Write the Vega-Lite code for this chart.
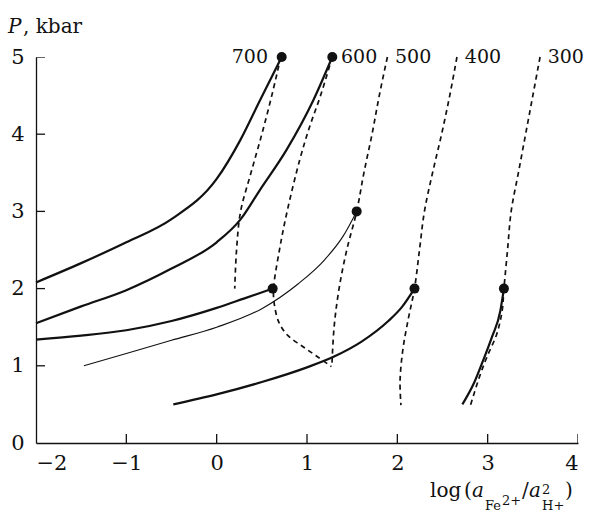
{
  "$schema": "https://vega.github.io/schema/vega-lite/v6.json",
  "width": 542,
  "height": 386,
  "autosize": "none",
  "padding": {"left": 36, "top": 57, "right": 12, "bottom": 71},
  "background": "white",
  "config": {
    "view": {"stroke": null},
    "font": "DejaVu Serif",
    "axis": {
      "grid": false,
      "domainColor": "#111",
      "domainWidth": 1.3,
      "tickColor": "#111",
      "tickOpacity": 0,
      "tickSize": -9,
      "labelFont": "DejaVu Serif",
      "labelFontSize": 21,
      "labelColor": "#111",
      "title": null
    }
  },
  "datasets": {
    "curves": [
      {"s": "d700", "k": "dash", "i": 0, "x": 0.71, "y": 5},
      {"s": "d700", "k": "dash", "i": 1, "x": 0.61, "y": 4.5},
      {"s": "d700", "k": "dash", "i": 2, "x": 0.5, "y": 4},
      {"s": "d700", "k": "dash", "i": 3, "x": 0.38, "y": 3.5},
      {"s": "d700", "k": "dash", "i": 4, "x": 0.265, "y": 3},
      {"s": "d700", "k": "dash", "i": 5, "x": 0.22, "y": 2.5},
      {"s": "d700", "k": "dash", "i": 6, "x": 0.2, "y": 2},
      {"s": "d600", "k": "dash", "i": 0, "x": 1.28, "y": 5},
      {"s": "d600", "k": "dash", "i": 1, "x": 1.15, "y": 4.5},
      {"s": "d600", "k": "dash", "i": 2, "x": 1.03, "y": 4.1},
      {"s": "d600", "k": "dash", "i": 3, "x": 0.92, "y": 3.67},
      {"s": "d600", "k": "dash", "i": 4, "x": 0.78, "y": 3},
      {"s": "d600", "k": "dash", "i": 5, "x": 0.695, "y": 2.5},
      {"s": "d600", "k": "dash", "i": 6, "x": 0.63, "y": 2},
      {"s": "d600", "k": "dash", "i": 7, "x": 0.638, "y": 1.8},
      {"s": "d600", "k": "dash", "i": 8, "x": 0.69, "y": 1.56},
      {"s": "d600", "k": "dash", "i": 9, "x": 0.79, "y": 1.39},
      {"s": "d600", "k": "dash", "i": 10, "x": 0.94, "y": 1.26},
      {"s": "d600", "k": "dash", "i": 11, "x": 1.1, "y": 1.13},
      {"s": "d600", "k": "dash", "i": 12, "x": 1.27, "y": 0.99},
      {"s": "d500", "k": "dash", "i": 0, "x": 1.89, "y": 5},
      {"s": "d500", "k": "dash", "i": 1, "x": 1.8, "y": 4.5},
      {"s": "d500", "k": "dash", "i": 2, "x": 1.72, "y": 4},
      {"s": "d500", "k": "dash", "i": 3, "x": 1.63, "y": 3.5},
      {"s": "d500", "k": "dash", "i": 4, "x": 1.55, "y": 3},
      {"s": "d500", "k": "dash", "i": 5, "x": 1.44, "y": 2.5},
      {"s": "d500", "k": "dash", "i": 6, "x": 1.355, "y": 2},
      {"s": "d500", "k": "dash", "i": 7, "x": 1.3, "y": 1.5},
      {"s": "d500", "k": "dash", "i": 8, "x": 1.275, "y": 0.99},
      {"s": "d400", "k": "dash", "i": 0, "x": 2.66, "y": 5},
      {"s": "d400", "k": "dash", "i": 1, "x": 2.58, "y": 4.5},
      {"s": "d400", "k": "dash", "i": 2, "x": 2.49, "y": 4},
      {"s": "d400", "k": "dash", "i": 3, "x": 2.39, "y": 3.5},
      {"s": "d400", "k": "dash", "i": 4, "x": 2.3, "y": 3},
      {"s": "d400", "k": "dash", "i": 5, "x": 2.245, "y": 2.5},
      {"s": "d400", "k": "dash", "i": 6, "x": 2.19, "y": 2},
      {"s": "d400", "k": "dash", "i": 7, "x": 2.12, "y": 1.6},
      {"s": "d400", "k": "dash", "i": 8, "x": 2.06, "y": 1.2},
      {"s": "d400", "k": "dash", "i": 9, "x": 2.03, "y": 0.8},
      {"s": "d400", "k": "dash", "i": 10, "x": 2.04, "y": 0.49},
      {"s": "d300", "k": "dash", "i": 0, "x": 3.58, "y": 5},
      {"s": "d300", "k": "dash", "i": 1, "x": 3.5, "y": 4.5},
      {"s": "d300", "k": "dash", "i": 2, "x": 3.42, "y": 4},
      {"s": "d300", "k": "dash", "i": 3, "x": 3.34, "y": 3.5},
      {"s": "d300", "k": "dash", "i": 4, "x": 3.26, "y": 3},
      {"s": "d300", "k": "dash", "i": 5, "x": 3.22, "y": 2.5},
      {"s": "d300", "k": "dash", "i": 6, "x": 3.18, "y": 2},
      {"s": "d300", "k": "dash", "i": 7, "x": 3.16, "y": 1.71},
      {"s": "d300", "k": "dash", "i": 8, "x": 3.1, "y": 1.41},
      {"s": "d300", "k": "dash", "i": 9, "x": 2.99, "y": 1.11},
      {"s": "d300", "k": "dash", "i": 10, "x": 2.91, "y": 0.86},
      {"s": "d300", "k": "dash", "i": 11, "x": 2.81, "y": 0.49},
      {"s": "s700", "k": "thick", "i": 0, "x": -2, "y": 2.08},
      {"s": "s700", "k": "thick", "i": 1, "x": -1.5, "y": 2.33},
      {"s": "s700", "k": "thick", "i": 2, "x": -1, "y": 2.6},
      {"s": "s700", "k": "thick", "i": 3, "x": -0.5, "y": 2.9},
      {"s": "s700", "k": "thick", "i": 4, "x": 0, "y": 3.42},
      {"s": "s700", "k": "thick", "i": 5, "x": 0.26, "y": 3.92},
      {"s": "s700", "k": "thick", "i": 6, "x": 0.48, "y": 4.44},
      {"s": "s700", "k": "thick", "i": 7, "x": 0.72, "y": 5},
      {"s": "s600", "k": "thick", "i": 0, "x": -2, "y": 1.55},
      {"s": "s600", "k": "thick", "i": 1, "x": -1.5, "y": 1.77},
      {"s": "s600", "k": "thick", "i": 2, "x": -1, "y": 1.98},
      {"s": "s600", "k": "thick", "i": 3, "x": -0.5, "y": 2.26},
      {"s": "s600", "k": "thick", "i": 4, "x": 0, "y": 2.6},
      {"s": "s600", "k": "thick", "i": 5, "x": 0.26, "y": 2.89},
      {"s": "s600", "k": "thick", "i": 6, "x": 0.48, "y": 3.28},
      {"s": "s600", "k": "thick", "i": 7, "x": 0.775, "y": 3.8},
      {"s": "s600", "k": "thick", "i": 8, "x": 1.07, "y": 4.44},
      {"s": "s600", "k": "thick", "i": 9, "x": 1.28, "y": 5},
      {"s": "s2a", "k": "thick", "i": 0, "x": -2, "y": 1.34},
      {"s": "s2a", "k": "thick", "i": 1, "x": -1.5, "y": 1.39},
      {"s": "s2a", "k": "thick", "i": 2, "x": -1, "y": 1.46},
      {"s": "s2a", "k": "thick", "i": 3, "x": -0.5, "y": 1.58},
      {"s": "s2a", "k": "thick", "i": 4, "x": 0, "y": 1.75},
      {"s": "s2a", "k": "thick", "i": 5, "x": 0.3, "y": 1.87},
      {"s": "s2a", "k": "thick", "i": 6, "x": 0.62, "y": 2},
      {"s": "s2b", "k": "thick", "i": 0, "x": -0.48, "y": 0.5},
      {"s": "s2b", "k": "thick", "i": 1, "x": 0, "y": 0.63},
      {"s": "s2b", "k": "thick", "i": 2, "x": 0.5, "y": 0.79},
      {"s": "s2b", "k": "thick", "i": 3, "x": 1, "y": 0.98},
      {"s": "s2b", "k": "thick", "i": 4, "x": 1.3, "y": 1.12},
      {"s": "s2b", "k": "thick", "i": 5, "x": 1.6, "y": 1.31},
      {"s": "s2b", "k": "thick", "i": 6, "x": 1.9, "y": 1.58},
      {"s": "s2b", "k": "thick", "i": 7, "x": 2.05, "y": 1.76},
      {"s": "s2b", "k": "thick", "i": 8, "x": 2.19, "y": 2},
      {"s": "s2c", "k": "thick", "i": 0, "x": 2.72, "y": 0.5},
      {"s": "s2c", "k": "thick", "i": 1, "x": 2.85, "y": 0.78},
      {"s": "s2c", "k": "thick", "i": 2, "x": 2.95, "y": 1.07},
      {"s": "s2c", "k": "thick", "i": 3, "x": 3.05, "y": 1.38},
      {"s": "s2c", "k": "thick", "i": 4, "x": 3.14, "y": 1.71},
      {"s": "s2c", "k": "thick", "i": 5, "x": 3.18, "y": 2},
      {"s": "s3", "k": "thin", "i": 0, "x": -1.47, "y": 1},
      {"s": "s3", "k": "thin", "i": 1, "x": -1, "y": 1.16},
      {"s": "s3", "k": "thin", "i": 2, "x": -0.5, "y": 1.33},
      {"s": "s3", "k": "thin", "i": 3, "x": 0, "y": 1.5},
      {"s": "s3", "k": "thin", "i": 4, "x": 0.5, "y": 1.74},
      {"s": "s3", "k": "thin", "i": 5, "x": 0.9, "y": 2.06},
      {"s": "s3", "k": "thin", "i": 6, "x": 1.2, "y": 2.38},
      {"s": "s3", "k": "thin", "i": 7, "x": 1.4, "y": 2.68},
      {"s": "s3", "k": "thin", "i": 8, "x": 1.55, "y": 3}
    ],
    "dots": [
      {"x": 0.72, "y": 5},
      {"x": 1.28, "y": 5},
      {"x": 1.55, "y": 3},
      {"x": 0.62, "y": 2},
      {"x": 2.19, "y": 2},
      {"x": 3.18, "y": 2}
    ],
    "ticksX": [
      {"x": -1, "y": 0}, {"x": 0, "y": 0}, {"x": 1, "y": 0},
      {"x": 2, "y": 0}, {"x": 3, "y": 0}, {"x": 4, "y": 0}
    ],
    "ticksY": [
      {"x": -2, "y": 1}, {"x": -2, "y": 2}, {"x": -2, "y": 3},
      {"x": -2, "y": 4}, {"x": -2, "y": 5}
    ],
    "labR": [{"t": "700", "x": 0.568, "y": 5}],
    "labL": [
      {"t": "600", "x": 1.376, "y": 5},
      {"t": "500", "x": 1.974, "y": 5},
      {"t": "400", "x": 2.747, "y": 5},
      {"t": "300", "x": 3.664, "y": 5}
    ],
    "tN": [
      {"t": ", kbar", "x": -2.144, "y": 5.311},
      {"t": "log", "x": 2.362, "y": -0.699},
      {"t": "(", "x": 2.738, "y": -0.699},
      {"t": "/", "x": 3.38, "y": -0.699},
      {"t": ")", "x": 3.856, "y": -0.699}
    ],
    "tI": [
      {"t": "P", "x": -2.31, "y": 5.311},
      {"t": "a", "x": 2.827, "y": -0.699},
      {"t": "a", "x": 3.458, "y": -0.699}
    ],
    "tS": [
      {"t": "Fe", "x": 2.97, "y": -0.868},
      {"t": "2+", "x": 3.159, "y": -0.803},
      {"t": "2", "x": 3.602, "y": -0.661},
      {"t": "H+", "x": 3.602, "y": -0.868}
    ]
  },
  "encoding": {
    "x": {
      "field": "x",
      "type": "quantitative",
      "scale": {"domain": [-2, 4], "nice": false, "zero": false},
      "axis": {"values": [-2, -1, 0, 1, 2, 3, 4], "labelPadding": 18, "labelBaseline": "top"}
    },
    "y": {
      "field": "y",
      "type": "quantitative",
      "scale": {"domain": [0, 5], "nice": false, "zero": false},
      "axis": {"values": [0, 1, 2, 3, 4, 5], "labelPadding": 21}
    }
  },
  "layer": [
    {
      "data": {"name": "ticksX"},
      "mark": {"type": "tick", "orient": "vertical", "color": "#111", "opacity": 1, "size": 18, "thickness": 1.3, "clip": true}
    },
    {
      "data": {"name": "ticksY"},
      "mark": {"type": "tick", "orient": "horizontal", "color": "#111", "opacity": 1, "size": 18, "thickness": 1.3, "clip": true}
    },
    {
      "data": {"name": "curves"},
      "transform": [{"filter": "datum.k === 'dash'"}],
      "mark": {"type": "line", "color": "#111", "strokeWidth": 1.7, "strokeDash": [5, 4], "interpolate": "catmull-rom", "clip": false},
      "encoding": {"detail": {"field": "s"}, "order": {"field": "i", "type": "quantitative"}}
    },
    {
      "data": {"name": "curves"},
      "transform": [{"filter": "datum.k === 'thick'"}],
      "mark": {"type": "line", "color": "#111", "strokeWidth": 2.2, "interpolate": "monotone"},
      "encoding": {"detail": {"field": "s"}, "order": {"field": "i", "type": "quantitative"}}
    },
    {
      "data": {"name": "curves"},
      "transform": [{"filter": "datum.k === 'thin'"}],
      "mark": {"type": "line", "color": "#111", "strokeWidth": 1.1, "interpolate": "monotone"},
      "encoding": {"detail": {"field": "s"}, "order": {"field": "i", "type": "quantitative"}}
    },
    {
      "data": {"name": "dots"},
      "mark": {"type": "point", "filled": true, "color": "#111", "opacity": 1, "size": 100}
    },
    {
      "data": {"name": "labR"},
      "mark": {"type": "text", "align": "right", "baseline": "middle", "fontSize": 19, "color": "#111"},
      "encoding": {"text": {"field": "t"}}
    },
    {
      "data": {"name": "labL"},
      "mark": {"type": "text", "align": "left", "baseline": "middle", "fontSize": 19, "color": "#111"},
      "encoding": {"text": {"field": "t"}}
    },
    {
      "data": {"name": "tN"},
      "mark": {"type": "text", "align": "left", "baseline": "alphabetic", "fontSize": 20, "color": "#111"},
      "encoding": {"text": {"field": "t"}}
    },
    {
      "data": {"name": "tI"},
      "mark": {"type": "text", "align": "left", "baseline": "alphabetic", "fontSize": 20, "fontStyle": "italic", "color": "#111"},
      "encoding": {"text": {"field": "t"}}
    },
    {
      "data": {"name": "tS"},
      "mark": {"type": "text", "align": "left", "baseline": "alphabetic", "fontSize": 13, "color": "#111"},
      "encoding": {"text": {"field": "t"}}
    }
  ]
}
